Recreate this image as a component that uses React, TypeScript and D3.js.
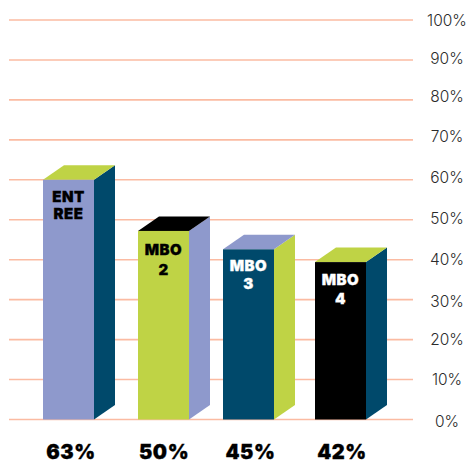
import React from "react";
import * as d3 from "d3";

const categories = ["ENTREE", "MBO 2", "MBO 3", "MBO 4"];
const heights = [60, 47.2, 42.6, 39.4];
const barStarts = [43, 138, 223, 315];
const totals = ["63%", "50%", "45%", "42%"];
const labelLines = [["ENT", "REE"], ["MBO", "2"], ["MBO", "3"], ["MBO", "4"]];
const frontColors = ["#8e99cc", "#bfd345", "#00496b", "#000000"];
const sideColors = ["#00496b", "#8e99cc", "#bfd345", "#00496b"];
const topColors = ["#bfd345", "#000000", "#8e99cc", "#bfd345"];
const labelColors = ["#000000", "#000000", "#ffffff", "#ffffff"];
const ticks = [0, 10, 20, 30, 40, 50, 60, 70, 80, 90, 100];
const tickNudge = [2, 0, 0, 2, 0, -1, -2, -3, -3, -1, 0];
const totalNudge = [1.5, -0.5, 1, 0.5];
const labelFirst = [22, 24, 22, 23];
const labelGap = [17, 20, 18, 19];

const W = 467, H = 461;
const y = d3.scaleLinear().domain([0, 100]).range([419.5, 20]);
const BAR_W = 51, DX = 21, DY = 14.5;
const poly = d3.line<[number, number]>().x(d => d[0]).y(d => d[1]);

export default function App() {
  return (
    <svg width={W} height={H} style={{ position: "fixed", left: 0, top: 0, background: "#fff" }}>
      {ticks.map((t, i) => (
        <g key={t}>
          <line x1={9} x2={413} y1={y(t)} y2={y(t)} stroke="#fbbba2" strokeWidth={1.6} />
          <text x={447} y={y(t) + 5.5 + tickNudge[i]} textAnchor="middle" fontFamily="Inter, sans-serif" fontWeight={300} fontSize={15.5} fill="#2b2b2b">{t}%</text>
        </g>
      ))}
      {categories.map((c, i) => {
        const x0 = barStarts[i], x1 = x0 + BAR_W, top = y(heights[i]), base = y(0);
        return (
          <g key={c}>
            <path d={poly([[x1, top], [x1 + DX, top - DY], [x1 + DX, base - DY], [x1, base]])! + "Z"} fill={sideColors[i]} />
            <path d={poly([[x0, top], [x0 + DX, top - DY], [x1 + DX, top - DY], [x1, top]])! + "Z"} fill={topColors[i]} />
            <rect x={x0} y={top} width={BAR_W} height={base - top} fill={frontColors[i]} />
            {labelLines[i].map((l, k) => (
              <text key={k} x={x0 + 25.5} y={top + labelFirst[i] + k * labelGap[i]} textAnchor="middle" fontFamily="Inter, sans-serif" fontWeight={900} fontSize={15} letterSpacing={0.5} stroke={labelColors[i]} strokeWidth={0.3} fill={labelColors[i]}>{l}</text>
            ))}
            <text x={x0 + 26.5 + totalNudge[i]} y={458.5} textAnchor="middle" fontFamily="Inter, sans-serif" fontWeight={900} fontSize={20} letterSpacing={0.6} stroke="#000" strokeWidth={0.3} fill="#000">{totals[i]}</text>
          </g>
        );
      })}
    </svg>
  );
}
